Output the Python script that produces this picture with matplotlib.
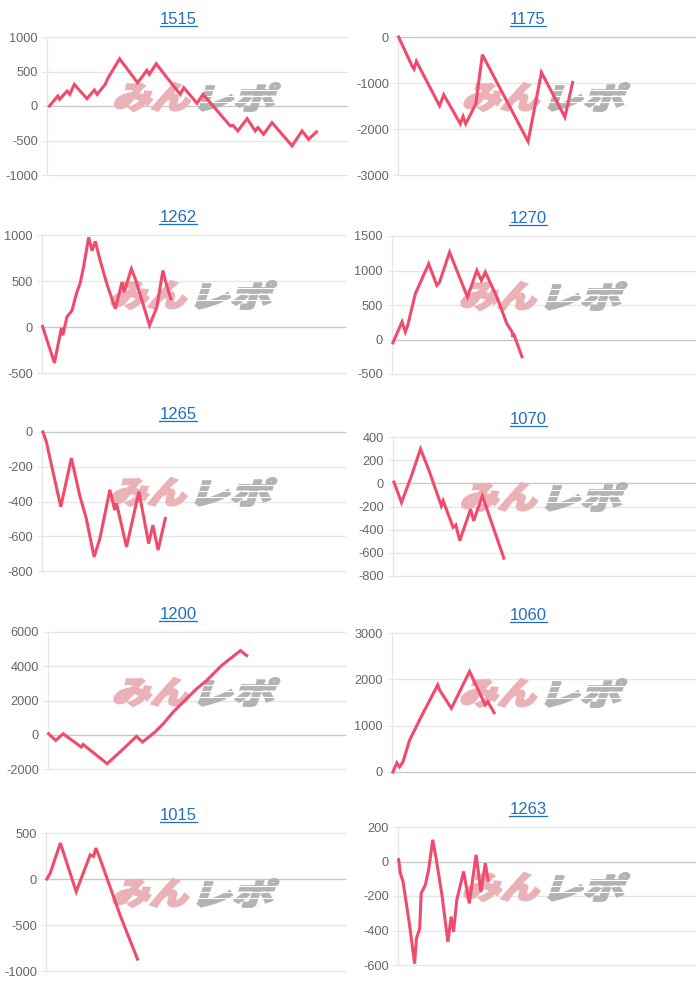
import matplotlib
matplotlib.use('Agg')
import matplotlib.pyplot as plt
from matplotlib.textpath import TextPath
from matplotlib.font_manager import FontProperties
from matplotlib.patches import PathPatch
from matplotlib.transforms import Affine2D, IdentityTransform
from matplotlib.lines import Line2D

plt.rcParams['font.family'] = ['Liberation Sans', 'DejaVu Sans']
plt.rcParams['axes.unicode_minus'] = False

# ---------------- data ----------------
titles = ['1515', '1175', '1262', '1270', '1265', '1070', '1200', '1060', '1015', '1263']

# x: position along the shared horizontal axis (0-100), y: difference value
x_1515 = [0.8, 3.6, 4.2, 6.7, 7.6, 9.1, 13.3, 15.8, 16.7, 19.4, 20.2, 24.2, 30.2, 33.3, 34.1, 36.4, 40.0,
          44.4, 45.6, 50.0, 52.0, 61.1, 62.0, 63.6, 66.7, 69.4, 70.3, 72.2, 75.0, 81.7, 85.0, 87.2, 89.8]
y_1515 = [0, 145, 96, 217, 169, 313, 106, 231, 169, 313, 395, 684, 337, 516, 458, 612, 410,
          169, 265, 39, 169, -289, -280, -361, -183, -361, -313, -410, -241, -578, -361, -482, -376]

x_1175 = [0.2, 4.8, 5.4, 6.2, 14.0, 15.4, 21.0, 21.9, 22.8, 26.2, 28.4, 43.8, 48.3, 56.2, 58.8]
y_1175 = [0, -639, -697, -530, -1496, -1256, -1888, -1728, -1888, -1452, -385, -2272, -770, -1742, -987]

x_1262 = [0.2, 1.3, 4.1, 6.4, 6.9, 8.2, 9.9, 11.5, 12.6, 13.7, 15.4, 16.5, 17.6, 19.2, 21.4, 24.2, 26.4,
          27.1, 29.5, 30.8, 35.5, 37.9, 39.9, 40.7, 42.5]
y_1262 = [7, -108, -390, -11, -90, 108, 180, 379, 477, 650, 975, 830, 931, 722, 469, 199, 487,
          379, 632, 523, 18, 217, 614, 505, 307]

x_1270 = [0.3, 0.9, 3.3, 4.4, 5.2, 7.7, 12.1, 14.8, 15.7, 19.0, 20.3, 24.9, 28.0, 29.5, 30.8, 34.6,
          37.9, 39.6, 39.9, 40.1, 42.9]
y_1270 = [-48, 14, 255, 111, 207, 664, 1097, 784, 832, 1265, 1121, 616, 1000, 856, 976, 616,
          231, 111, 38, 87, -250]

x_1265 = [0.3, 1.4, 3.6, 6.2, 9.7, 12.4, 14.6, 17.2, 19.1, 22.4, 24.0, 24.6, 27.9, 32.0, 35.2, 36.6, 38.3, 40.7]
y_1265 = [0, -54, -227, -430, -150, -362, -497, -719, -613, -333, -449, -411, -661, -343, -642, -536, -680, -497]

x_1070 = [0.3, 2.8, 6.1, 9.1, 12.0, 16.0, 16.6, 19.9, 20.8, 22.1, 25.7, 26.7, 29.6, 36.7]
y_1070 = [11, -166, 63, 297, 106, -194, -151, -380, -360, -494, -223, -323, -109, -646]

x_1200 = [0.2, 2.6, 5.1, 11.2, 11.8, 19.9, 24.2, 29.8, 31.8, 36.0, 38.8, 42.1, 50.0, 53.4, 58.4, 64.8, 66.9]
y_1200 = [58, -330, 58, -718, -563, -1690, -1010, -97, -427, 155, 641, 1321, 2680, 3165, 4039, 4913, 4622]

x_1060 = [0.3, 1.6, 2.5, 3.6, 5.8, 9.9, 15.1, 15.7, 19.6, 25.6, 30.8, 31.6, 33.7]
y_1060 = [0, 195, 108, 217, 687, 1229, 1880, 1771, 1374, 2169, 1446, 1518, 1280]

x_1015 = [0.3, 1.4, 4.8, 10.1, 12.0, 14.8, 15.9, 16.7, 18.2, 24.8, 30.6]
y_1015 = [0, 62, 391, -139, 26, 263, 245, 337, 209, -395, -871]

x_1263 = [0.2, 0.8, 1.7, 3.9, 5.6, 6.2, 7.3, 7.8, 9.2, 10.3, 11.7, 12.9, 14.8, 16.8, 17.9, 18.7, 19.8,
          22.1, 24.0, 26.3, 27.9, 29.4, 30.3]
y_1263 = [10, -68, -117, -369, -592, -447, -388, -184, -136, -49, 126, 10, -194, -466, -320, -408, -223,
          -58, -243, 39, -175, -10, -107]

ticks_1515 = [-1000, -500, 0, 500, 1000]
ticks_1175 = [-3000, -2000, -1000, 0]
ticks_1262 = [-500, 0, 500, 1000]
ticks_1270 = [-500, 0, 500, 1000, 1500]
ticks_1265 = [-800, -600, -400, -200, 0]
ticks_1070 = [-800, -600, -400, -200, 0, 200, 400]
ticks_1200 = [-2000, 0, 2000, 4000, 6000]
ticks_1060 = [0, 1000, 2000, 3000]
ticks_1015 = [-1000, -500, 0, 500]
ticks_1263 = [-600, -400, -200, 0, 200]

series = [
    (x_1515, y_1515, ticks_1515), (x_1175, y_1175, ticks_1175),
    (x_1262, y_1262, ticks_1262), (x_1270, y_1270, ticks_1270),
    (x_1265, y_1265, ticks_1265), (x_1070, y_1070, ticks_1070),
    (x_1200, y_1200, ticks_1200), (x_1060, y_1060, ticks_1060),
    (x_1015, y_1015, ticks_1015), (x_1263, y_1263, ticks_1263),
]

# ---------------- layout (pixels: left, top, right, bottom) ----------------
W, H = 700, 989
rects = [
    (47, 37, 347, 175), (398, 37, 695, 175),
    (42, 235, 345, 373), (392, 236, 695, 374),
    (42, 432, 345, 571), (393, 437, 695, 576),
    (48, 632, 345, 769), (392, 633, 695, 772),
    (46, 833, 345, 971), (398, 827, 695, 965),
]
col_centers = [178, 528]

LINE = '#f04b6c'
GRID = '#e6e6e6'
ZERO = '#c8c8c8'
TITLE = '#1f6fc5'

fig = plt.figure(figsize=(W / 100, H / 100), dpi=100)
fig.patch.set_facecolor('white')

wm_font = FontProperties(family=['Noto Sans CJK JP'], weight='heavy')


def fitted_path(text, box):
    tp = TextPath((0, 0), text, size=40, prop=wm_font)
    p = Affine2D().skew_deg(14, 0).transform_path(tp)
    ext = p.get_extents()
    sx = (box[2] - box[0]) / ext.width
    sy = (box[3] - box[1]) / ext.height
    tr = Affine2D().translate(-ext.x0, -ext.y0).scale(sx, sy).translate(box[0], box[1])
    return tr.transform_path(p)


title_texts = []
for i, ((xs, ys, ticks), (l, t, r, b)) in enumerate(zip(series, rects)):
    ax = fig.add_axes([l / W, 1 - b / H, (r - l) / W, (b - t) / H])
    ax.set_facecolor('none')
    for v in ticks:
        ax.axhline(v, color=ZERO if v == 0 else GRID, lw=1, zorder=0.5, clip_on=False)
    for s in ['top', 'right', 'bottom']:
        ax.spines[s].set_visible(False)
    ax.spines['left'].set_color(GRID)
    ax.spines['left'].set_linewidth(1)
    ax.set_xticks([])
    ax.set_yticks(ticks)
    ax.set_yticklabels([str(v) for v in ticks])
    ax.tick_params(axis='y', length=3.5, width=0.8, color=GRID, pad=3,
                   labelsize=9.2, labelcolor='#666666')

    # watermark (logo) below the line
    cx = (l + r) / 2
    cy = H - (t + 60)
    pink = fitted_path('みん', (cx - 82, cy - 14, cx - 7, cy + 14))
    gray = fitted_path('レポ', (cx + 2, cy - 14, cx + 83, cy + 14))
    ax.add_artist(PathPatch(pink, transform=IdentityTransform(), facecolor='#eab2b7',
                            edgecolor='#eab2b7', lw=1.6, zorder=1))
    ax.add_artist(PathPatch(gray, transform=IdentityTransform(), facecolor='#b3b3b3',
                            edgecolor='#b3b3b3', lw=1.4, zorder=1))
    for dy in (-5, 1, 7):
        ax.add_artist(Line2D([cx + 3, cx + 90], [cy + dy, cy + dy], transform=IdentityTransform(),
                             color='white', lw=0.8, zorder=1.1))

    ax.plot(xs, ys, color=LINE, lw=2.2, solid_joinstyle='miter', zorder=3, clip_on=False)
    ax.set_xlim(0, 100)
    ax.set_ylim(ticks[0], ticks[-1])

    tx = col_centers[i % 2]
    ty = t - 13
    tt = fig.text(tx / W, 1 - ty / H, titles[i], ha='center', va='baseline',
                  color=TITLE, fontsize=12)
    title_texts.append((tt, ty))

fig.canvas.draw()
renderer = fig.canvas.get_renderer()
for tt, ty in title_texts:
    bb = tt.get_window_extent(renderer)
    yy = H - (ty + 1.8)
    fig.add_artist(Line2D([bb.x0, bb.x1], [yy, yy], transform=IdentityTransform(),
                          color=TITLE, lw=0.9))

fig.savefig('out.png', dpi=100, facecolor='white')
